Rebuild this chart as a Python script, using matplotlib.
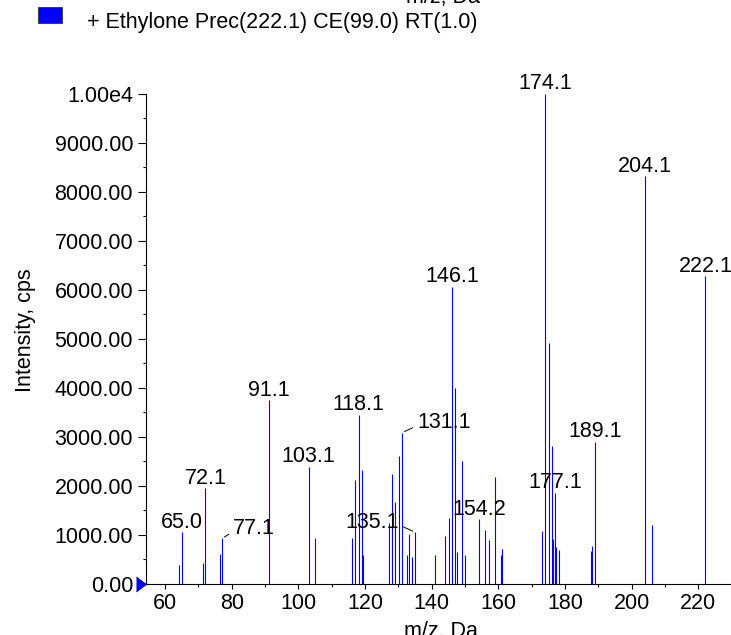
import matplotlib

matplotlib.use("Agg")
import matplotlib.pyplot as plt
from matplotlib.patches import Rectangle
from matplotlib.ticker import FuncFormatter, MultipleLocator

# peak list (m/z, intensity in cps)
MZ = [
    64.1, 65.0, 71.4, 72.1, 76.6, 77.1, 91.1, 103.1, 105.1,
    116.1, 117.1, 118.1, 119.1, 119.5, 127.1, 128.1, 129.1, 130.1,
    131.1, 132.6, 133.1, 134.1, 135.1, 141.1, 144.1, 145.1, 146.1,
    147.1, 147.6, 149.1, 150.1, 154.2, 156.1, 157.1, 159.1, 160.8,
    161.1, 173.1, 174.1, 175.1, 176.1, 176.5, 177.1, 177.4, 178.1,
    187.9, 188.2, 189.1, 204.1, 206.1, 222.1,
]
INTENSITY = [
    370, 1050, 425, 1945, 600, 920, 3740, 2390, 930,
    930, 2110, 3450, 2310, 590, 1230, 2230, 1670, 2600,
    3080, 590, 1010, 535, 1045, 575, 975, 1330, 6060,
    3990, 635, 2500, 575, 1315, 1100, 895, 2180, 590,
    710, 1065, 10000, 4905, 2810, 905, 1855, 740, 690,
    655, 775, 2895, 8320, 1200, 6280,
]
LABELLED = [65.0, 72.1, 77.1, 91.1, 103.1, 118.1, 131.1, 135.1, 146.1,
            154.2, 174.1, 177.1, 189.1, 204.1, 222.1]
TRACE = "+ Ethylone Prec(222.1) CE(99.0) RT(1.0)"

W, H = 731, 635
FS = 15.5

plt.rcParams.update(
    {
        "font.family": ["Liberation Sans", "DejaVu Sans"],
        "font.size": FS,
        "axes.linewidth": 0.8,
    }
)

fig = plt.figure(figsize=(W / 100, H / 100), dpi=100)
ax = fig.add_axes([146 / W, (H - 583.5) / H, (W - 146) / W, (583.5 - 94) / H])

ax.vlines(MZ, 0, INTENSITY, color="#0000FF", linewidth=0.8)

ax.set_xlim(54.3, 229.8)
ax.set_ylim(0, 10000)
ax.spines["top"].set_visible(False)
ax.spines["right"].set_visible(False)

ax.xaxis.set_major_locator(MultipleLocator(20))
ax.xaxis.set_minor_locator(MultipleLocator(10))
ax.yaxis.set_major_locator(MultipleLocator(1000))
ax.yaxis.set_minor_locator(MultipleLocator(500))
ax.yaxis.set_major_formatter(
    FuncFormatter(lambda v, _: "1.00e4" if v >= 10000 else f"{v:.2f}")
)
ax.tick_params(axis="x", which="major", length=3.6, width=0.8, pad=3.5, labelsize=FS)
ax.tick_params(axis="x", which="minor", length=2.4, width=0.8)
ax.tick_params(axis="y", which="major", length=5.5, width=0.8, pad=3.8, labelsize=FS)
ax.tick_params(axis="y", which="minor", length=2.4, width=0.8)

# labels, some pushed aside with a leader line
offsets = {
    77.1: (8.0, 3.4, "left", (0.0, 0.34)),
    131.1: (10.8, 3.2, "left", (0.0, 0.36)),
    135.1: (-11.7, 3.2, "right", (1.0, 0.38)),
}
for mz, inten in zip(MZ, INTENSITY):
    if mz not in LABELLED:
        continue
    if mz in offsets:
        dx, dy, ha, rel = offsets[mz]
        ax.annotate(
            f"{mz:.1f}", xy=(mz, inten), xytext=(dx, dy), textcoords="offset points",
            ha=ha, va="baseline", fontsize=FS,
            arrowprops=dict(arrowstyle="-", color="black", lw=0.7,
                            relpos=rel, shrinkA=1.2, shrinkB=2.0),
        )
    else:
        ax.annotate(
            f"{mz:.1f}", xy=(mz, inten), xytext=(0, 3.3), textcoords="offset points",
            ha="center", va="baseline", fontsize=FS,
        )

# blue marker at the origin of the y axis
ax.plot([ax.get_xlim()[0]], [0], marker=[(-4, 3), (0, 0), (-4, -3)],
        markersize=14.4, color="#0000FF", markeredgecolor="#000066",
        markeredgewidth=0.5, clip_on=False, zorder=5)

fig.text(26 / W, 1 - 330 / H, "Intensity, cps", rotation=90,
         ha="center", va="center", fontsize=FS)
# axis title of this panel (cut by the bottom edge) and of the panel above
fig.text(441 / W, -2.5 / H, "m/z, Da", ha="center", va="baseline", fontsize=FS)
fig.text(443 / W, 1 - 2.5 / H, "m/z, Da", ha="center", va="baseline", fontsize=FS)

# legend swatch and trace name
fig.patches.append(
    Rectangle((38 / W, 1 - 23 / H), 24 / W, 16 / H, transform=fig.transFigure,
              facecolor="#0000FF", edgecolor="#333333", linewidth=0.6)
)
fig.text(86.7 / W, 1 - 28.3 / H, TRACE, ha="left", va="baseline", fontsize=FS)

fig.savefig("out.png", dpi=100)
